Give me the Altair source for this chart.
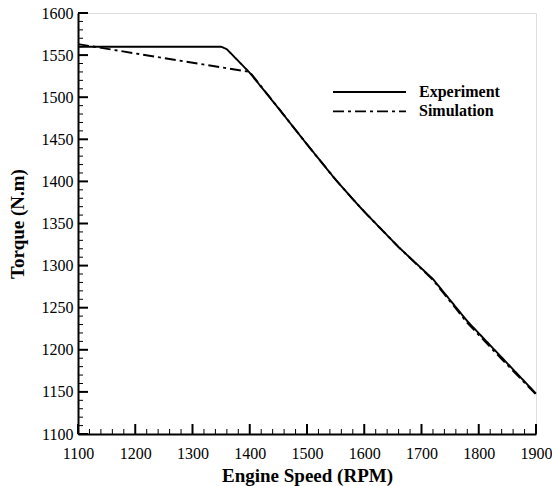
import altair as alt
import pandas as pd

# ---- data ----
exp_rpm = [1100, 1350, 1360, 1400, 1450, 1500, 1550, 1580, 1600, 1660, 1720, 1780, 1840, 1900]
exp_torque = [1560, 1560, 1557, 1529, 1487, 1444, 1402, 1379, 1364, 1322, 1284, 1234, 1191, 1148]

sim_rpm = [1100, 1400, 1450, 1500, 1550, 1580, 1600, 1660, 1720, 1780, 1840, 1900]
sim_torque = [1563, 1530, 1487, 1444, 1402, 1379, 1364, 1322, 1283, 1232, 1189, 1147]

series_names = ["Experiment", "Simulation"]

x_major = [1100, 1200, 1300, 1400, 1500, 1600, 1700, 1800, 1900]
x_minor = [v for v in range(1100, 1901, 20) if v % 100 != 0]
y_major = [1100, 1150, 1200, 1250, 1300, 1350, 1400, 1450, 1500, 1550, 1600]
y_minor = [v for v in range(1100, 1601, 10) if v % 50 != 0]

W, H = 458, 421
FONT = "Liberation Serif"

df = pd.concat([
    pd.DataFrame({"rpm": exp_rpm, "torque": exp_torque, "series": series_names[0]}),
    pd.DataFrame({"rpm": sim_rpm, "torque": sim_torque, "series": series_names[1]}),
])

xscale = alt.Scale(domain=[1100, 1900], nice=False, zero=False)
yscale = alt.Scale(domain=[1100, 1600], nice=False, zero=False)

xaxis = alt.Axis(values=x_major, format="d", title="Engine Speed (RPM)", ticks=False, grid=False,
                 domainColor="black", domainWidth=2, labelFont=FONT, labelFontSize=16,
                 labelColor="black", labelPadding=11, labelFlush=False, labelOverlap=False,
                 titleFont=FONT, titleFontSize=19, titleFontWeight="bold", titleColor="black",
                 titleBaseline="alphabetic", titleY=47)
yaxis = alt.Axis(values=y_major, format="d", title="Torque (N.m)", ticks=False, grid=False,
                 domainColor="black", domainWidth=2, labelFont=FONT, labelFontSize=16,
                 labelColor="black", labelPadding=5, labelFlush=False, labelOverlap=False,
                 titleFont=FONT, titleFontSize=19, titleFontWeight="bold", titleColor="black",
                 titleBaseline="alphabetic", titleAngle=270, titleX=-55, titleY=H / 2,
                 titleAlign="center")

dash_scale = alt.Scale(domain=series_names, range=[[1, 0], [11, 4, 3, 4]])

lines = alt.Chart(df).mark_line(color="black", strokeWidth=1.9).encode(
    x=alt.X("rpm:Q", scale=xscale, axis=xaxis),
    y=alt.Y("torque:Q", scale=yscale, axis=yaxis),
    strokeDash=alt.StrokeDash("series:N", scale=dash_scale, legend=None),
    detail="series:N",
)

xmaj = alt.Chart(pd.DataFrame({"v": x_major})).mark_tick(
    color="black", orient="vertical", size=10, thickness=2, opacity=1).encode(
    x=alt.X("v:Q", scale=xscale, axis=xaxis), y=alt.value(H - 5))
xmin = alt.Chart(pd.DataFrame({"v": x_minor})).mark_tick(
    color="black", orient="vertical", size=5, thickness=1, opacity=1).encode(
    x=alt.X("v:Q", scale=xscale, axis=xaxis), y=alt.value(H - 2.5))
ymaj = alt.Chart(pd.DataFrame({"v": y_major})).mark_tick(
    color="black", orient="horizontal", size=10, thickness=2, opacity=1).encode(
    y=alt.Y("v:Q", scale=yscale, axis=yaxis), x=alt.value(5))
ymin = alt.Chart(pd.DataFrame({"v": y_minor})).mark_tick(
    color="black", orient="horizontal", size=5, thickness=1, opacity=1).encode(
    y=alt.Y("v:Q", scale=yscale, axis=yaxis), x=alt.value(2.5))

legend_layers = []
for i, name in enumerate(series_names):
    ly = 79 + 19.4 * i
    ldf = pd.DataFrame({"series": [name]})
    legend_layers.append(
        alt.Chart(ldf).mark_rule(color="black", strokeWidth=1.9).encode(
            x=alt.value(255), x2=alt.value(328), y=alt.value(ly),
            strokeDash=alt.StrokeDash("series:N", scale=dash_scale, legend=None)))
    legend_layers.append(
        alt.Chart(ldf).mark_text(align="left", baseline="middle", font=FONT, fontSize=16,
                                 fontWeight="bold", color="black").encode(
            x=alt.value(341), y=alt.value(ly), text="series:N"))

chart = alt.layer(xmin, xmaj, ymin, ymaj, lines, *legend_layers).properties(
    width=W, height=H,
    padding={"left": 78, "top": 13, "right": 16, "bottom": 52},
    autosize=alt.AutoSizeParams(type="none"),
).configure_view(stroke="black", strokeWidth=2).configure(background="white")

chart.save("out.html", embed_options={"renderer": "svg", "actions": False})
